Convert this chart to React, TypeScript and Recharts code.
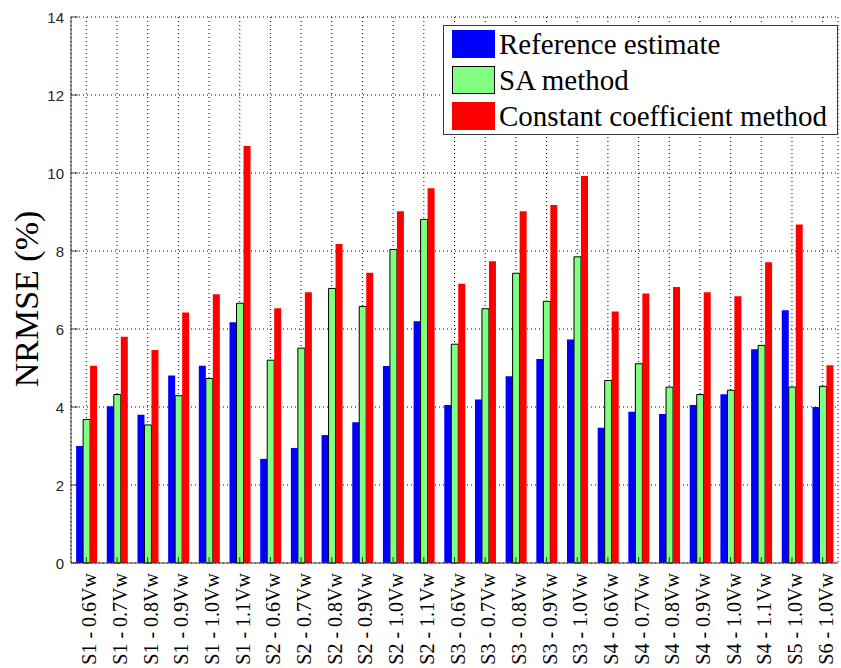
import { Bar, BarChart, CartesianGrid, XAxis, YAxis } from 'recharts'

// categories and NRMSE (%) values
const categories = [
  'S1 - 0.6Vw', 'S1 - 0.7Vw', 'S1 - 0.8Vw', 'S1 - 0.9Vw', 'S1 - 1.0Vw', 'S1 - 1.1Vw',
  'S2 - 0.6Vw', 'S2 - 0.7Vw', 'S2 - 0.8Vw', 'S2 - 0.9Vw', 'S2 - 1.0Vw', 'S2 - 1.1Vw',
  'S3 - 0.6Vw', 'S3 - 0.7Vw', 'S3 - 0.8Vw', 'S3 - 0.9Vw', 'S3 - 1.0Vw',
  'S4 - 0.6Vw', 'S4 - 0.7Vw', 'S4 - 0.8Vw', 'S4 - 0.9Vw', 'S4 - 1.0Vw', 'S4 - 1.1Vw',
  'S5 - 1.0Vw', 'S6 - 1.0Vw',
]
const referenceEstimate = [
  3.0, 4.02, 3.8, 4.81, 5.06, 6.17, 2.67, 2.95, 3.28, 3.61, 5.05, 6.2,
  4.05, 4.19, 4.79, 5.23, 5.73, 3.47, 3.88, 3.82, 4.05, 4.33, 5.48, 6.48, 4.0,
]
const saMethod = [
  3.68, 4.32, 3.54, 4.29, 4.73, 6.66, 5.2, 5.51, 7.04, 6.58, 8.04, 8.81,
  5.61, 6.52, 7.43, 6.71, 7.85, 4.68, 5.11, 4.51, 4.32, 4.43, 5.58, 4.51, 4.53,
]
const constantCoefficient = [
  5.06, 5.8, 5.46, 6.42, 6.89, 10.69, 6.53, 6.94, 8.18, 7.44, 9.02, 9.61,
  7.16, 7.74, 9.02, 9.18, 9.92, 6.45, 6.91, 7.08, 6.94, 6.84, 7.71, 8.68, 5.07,
]
const yTicks = [0, 2, 4, 6, 8, 10, 12, 14]

// note: don't use "ref"/"key" as data keys, recharts spreads entries into bar props
const series = [
  { key: 'reference', name: 'Reference estimate', fill: '#0000ff', stroke: 'none' },
  { key: 'sa', name: 'SA method', fill: '#80ff80', stroke: '#000000' },
  { key: 'constant', name: 'Constant coefficient method', fill: '#ff0000', stroke: 'none' },
]

const data = categories.map((name, i) => ({
  name,
  reference: referenceEstimate[i],
  sa: saMethod[i],
  constant: constantCoefficient[i],
}))

const LEFT = 71
const RIGHT = 838
const TOP = 17
const BOTTOM = 563
const axisColor = '#3a3a3a'
const serif = 'Liberation Serif, Tinos, DejaVu Serif, serif'

const renderXTick = (props: any) => {
  const { x, y, payload } = props
  return (
    <g>
      <line x1={x} x2={x} y1={BOTTOM} y2={BOTTOM - 6} stroke={axisColor} />
      <text
        transform={`translate(${x + 10},${y + 2}) rotate(-90)`}
        textAnchor="end"
        style={{ fontFamily: serif, fontSize: 20 }}
        fill="#000"
      >
        {payload.value}
      </text>
    </g>
  )
}

const renderTopTick = (props: any) => (
  <line x1={props.x} x2={props.x} y1={TOP} y2={TOP + 6} stroke={axisColor} />
)

const renderYTick = (props: any) => {
  const { y, payload } = props
  return (
    <g>
      <line x1={LEFT} x2={LEFT + 7} y1={y} y2={y} stroke={axisColor} />
      <text
        x={LEFT - 7}
        y={y}
        textAnchor="end"
        dominantBaseline="central"
        style={{ fontFamily: 'Liberation Sans, Arial, sans-serif', fontSize: 15 }}
        fill="#262626"
      >
        {payload.value}
      </text>
    </g>
  )
}

const renderRightTick = (props: any) => (
  <line x1={RIGHT - 7} x2={RIGHT} y1={props.y} y2={props.y} stroke={axisColor} />
)

function LegendBox() {
  return (
    <div
      style={{
        position: 'absolute',
        left: 443,
        top: 25,
        width: 395,
        border: `1px solid ${axisColor}`,
        background: '#fff',
        padding: '0 0 0 8px',
        boxSizing: 'border-box',
      }}
    >
      {series.map((s) => (
        <div key={s.key} style={{ display: 'flex', alignItems: 'center', height: 36 }}>
          <span
            style={{
              display: 'inline-block',
              width: 43,
              height: 28,
              background: s.fill,
              border: s.stroke === 'none' ? 'none' : `1px solid ${s.stroke}`,
              boxSizing: 'border-box',
              marginRight: 4,
            }}
          />
          <span style={{ fontFamily: serif, fontSize: 29, color: '#000', lineHeight: '36px' }}>
            {s.name}
          </span>
        </div>
      ))}
    </div>
  )
}

export default function App() {
  return (
    <div style={{ position: 'absolute', left: 0, top: 0, width: 841, height: 668, background: '#fff' }}>
      <BarChart
        width={841}
        height={668}
        data={data}
        margin={{ top: TOP, right: 841 - RIGHT, bottom: 0, left: 0 }}
        barCategoryGap="16.7%"
        barGap={0}
      >
        <CartesianGrid stroke="#000" strokeDasharray="1 3" />
        <XAxis
          dataKey="name"
          height={668 - BOTTOM}
          interval={0}
          tick={renderXTick}
          tickLine={false}
          axisLine={{ stroke: axisColor }}
        />
        <XAxis
          xAxisId="top"
          dataKey="name"
          orientation="top"
          height={0}
          interval={0}
          tick={renderTopTick}
          tickLine={false}
          axisLine={{ stroke: axisColor }}
        />
        <YAxis
          width={LEFT}
          domain={[0, 14]}
          ticks={yTicks}
          interval={0}
          tick={renderYTick}
          tickLine={false}
          axisLine={{ stroke: axisColor }}
        />
        <YAxis
          yAxisId="right"
          orientation="right"
          width={0}
          domain={[0, 14]}
          ticks={yTicks}
          interval={0}
          tick={renderRightTick}
          tickLine={false}
          axisLine={{ stroke: axisColor }}
        />
        {series.map((s) => (
          <Bar
            key={s.key}
            dataKey={s.key}
            name={s.name}
            fill={s.fill}
            stroke={s.stroke}
            strokeWidth={1}
            isAnimationActive={false}
          />
        ))}
      </BarChart>
      <svg
        width={60}
        height={668}
        style={{ position: 'absolute', left: 0, top: 0, pointerEvents: 'none' }}
      >
        <text
          transform="translate(38,299) rotate(-90)"
          textAnchor="middle"
          style={{ fontFamily: serif, fontSize: 34 }}
          fill="#000"
        >
          NRMSE (%)
        </text>
      </svg>
      <LegendBox />
    </div>
  )
}
